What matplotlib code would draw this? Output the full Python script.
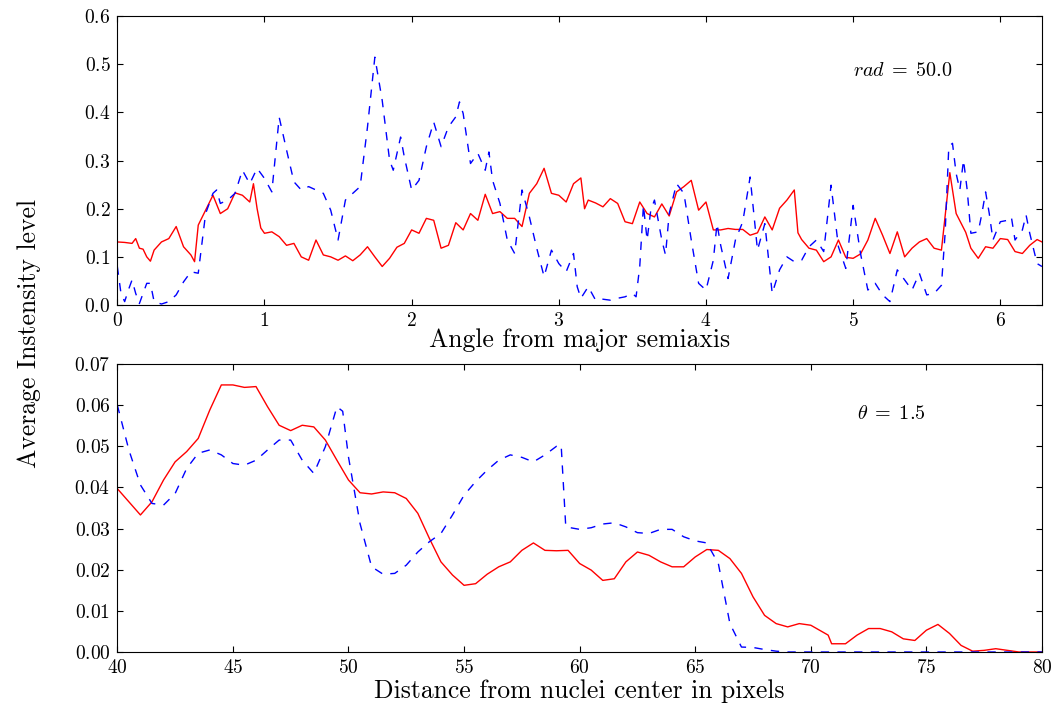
import matplotlib
matplotlib.use("Agg")
import matplotlib.pyplot as plt
import numpy as np

plt.rcParams["font.family"] = "serif"
plt.rcParams["font.serif"] = ["cmr10"]
plt.rcParams["mathtext.fontset"] = "cm"
plt.rcParams["axes.formatter.use_mathtext"] = True

# top panel: intensity vs angle (rad = 50.0)
ang_red = [0, .05, .1, .125, .15, .175, .2, .225, .25, .3, .35, .4, .45, .5, .525, .55, .6, .65, .7, .75,
           .8, .85, .9, .925, .95, .975, 1.0, 1.05, 1.1, 1.15, 1.2, 1.25, 1.3, 1.35, 1.4, 1.45, 1.5, 1.55,
           1.6, 1.65, 1.7, 1.75, 1.8, 1.85, 1.9, 1.95, 2.0, 2.05, 2.1, 2.15, 2.2, 2.25, 2.3, 2.35, 2.4,
           2.45, 2.5, 2.55, 2.6, 2.65, 2.7, 2.75, 2.8, 2.85, 2.9, 2.95, 3.0, 3.05, 3.1, 3.15, 3.175, 3.2,
           3.25, 3.3, 3.35, 3.4, 3.45, 3.5, 3.55, 3.6, 3.65, 3.7, 3.75, 3.8, 3.85, 3.9, 3.95, 4.0, 4.05,
           4.1, 4.15, 4.2, 4.25, 4.3, 4.35, 4.4, 4.45, 4.5, 4.55, 4.6, 4.625, 4.65, 4.7, 4.75, 4.8, 4.85,
           4.9, 4.95, 5.0, 5.05, 5.1, 5.15, 5.2, 5.25, 5.3, 5.35, 5.4, 5.45, 5.5, 5.55, 5.6, 5.657, 5.7,
           5.765, 5.8, 5.85, 5.9, 5.95, 6.0, 6.05, 6.1, 6.15, 6.2, 6.25, 6.283]
int_red = [.131, .130, .128, .138, .118, .116, .100, .091, .114, .131, .138, .163, .121, .104, .090, .166,
           .197, .228, .190, .200, .233, .228, .214, .252, .200, .160, .149, .152, .142, .124, .128, .100,
           .093, .135, .104, .100, .093, .102, .092, .104, .121, .100, .080, .097, .120, .128, .156, .149,
           .180, .176, .118, .124, .171, .156, .190, .176, .230, .190, .194, .180, .180, .163, .232, .252,
           .284, .232, .228, .214, .252, .264, .200, .218, .212, .204, .221, .211, .173, .169, .214, .190,
           .183, .210, .185, .235, .246, .259, .197, .214, .156, .156, .159, .157, .157, .145, .150, .183,
           .156, .201, .218, .239, .150, .136, .118, .114, .090, .100, .135, .099, .097, .106, .135, .180,
           .145, .107, .152, .100, .118, .131, .138, .118, .114, .275, .190, .151, .118, .097, .121, .118,
           .138, .136, .111, .107, .124, .136, .131]

ang_blue = [0, .025, .05, .075, .1, .125, .15, .175, .2, .225, .25, .3, .35, .4, .45, .5, .55, .6, .65,
            .675, .7, .75, .8, .85, .9, .95, 1.0, 1.05, 1.1, 1.15, 1.2, 1.25, 1.3, 1.35, 1.4, 1.45, 1.5,
            1.55, 1.6, 1.65, 1.7, 1.75, 1.8, 1.85, 1.875, 1.9, 1.925, 1.95, 2.0, 2.05, 2.1, 2.15, 2.2,
            2.25, 2.3, 2.325, 2.35, 2.4, 2.45, 2.5, 2.525, 2.55, 2.6, 2.65, 2.7, 2.75, 2.8, 2.85, 2.9,
            2.95, 3.0, 3.05, 3.1, 3.125, 3.15, 3.2, 3.25, 3.3, 3.35, 3.4, 3.45, 3.5, 3.525, 3.55, 3.575,
            3.6, 3.625, 3.65, 3.7, 3.725, 3.75, 3.8, 3.85, 3.9, 3.95, 4.0, 4.05, 4.075, 4.1, 4.15, 4.2,
            4.25, 4.3, 4.35, 4.4, 4.45, 4.5, 4.55, 4.6, 4.65, 4.7, 4.75, 4.8, 4.85, 4.9, 4.95, 5.0, 5.05,
            5.1, 5.15, 5.2, 5.25, 5.3, 5.35, 5.4, 5.45, 5.5, 5.55, 5.6, 5.625, 5.65, 5.675, 5.7, 5.725,
            5.75, 5.775, 5.8, 5.85, 5.875, 5.9, 5.925, 5.95, 6.0, 6.05, 6.075, 6.1, 6.15, 6.175, 6.2,
            6.25, 6.283]
int_blue = [.080, .024, .007, .031, .052, .024, .003, .024, .045, .045, .007, .002, .007, .021, .048, .069,
            .066, .190, .232, .239, .211, .218, .232, .280, .252, .284, .263, .235, .390, .322, .256, .239,
            .246, .239, .232, .197, .135, .218, .232, .246, .370, .515, .425, .301, .280, .315, .349, .308,
            .239, .259, .329, .380, .329, .370, .391, .422, .398, .294, .315, .280, .318, .259, .211, .135,
            .107, .239, .183, .118, .059, .114, .086, .069, .107, .038, .014, .038, .010, .012, .010, .014,
            .017, .024, .017, .080, .207, .135, .197, .218, .135, .104, .190, .252, .232, .135, .045, .031,
            .093, .169, .124, .055, .135, .173, .266, .114, .169, .024, .073, .100, .090, .093, .121, .135,
            .111, .249, .121, .076, .207, .107, .031, .045, .021, .007, .073, .052, .031, .066, .021, .024,
            .041, .149, .329, .336, .273, .239, .301, .239, .149, .152, .190, .235, .190, .135, .173, .176,
            .183, .135, .156, .187, .149, .086, .080]

# bottom panel: intensity vs distance (theta = 1.5)
dist_red = [40, 40.5, 41, 41.5, 42, 42.5, 43, 43.5, 44, 44.5, 45, 45.5, 46, 46.5, 47, 47.5, 48, 48.5, 49,
            49.5, 50, 50.5, 51, 51.5, 52, 52.5, 53, 53.5, 54, 54.5, 55, 55.5, 56, 56.5, 57, 57.5, 58, 58.5,
            59, 59.5, 60, 60.5, 61, 61.5, 62, 62.5, 63, 63.5, 64, 64.5, 65, 65.5, 66, 66.5, 67, 67.5, 68,
            68.5, 69, 69.5, 70, 70.5, 70.75, 70.9, 71.5, 72, 72.5, 73, 73.5, 74, 74.5, 75, 75.5, 76, 76.5,
            77, 77.5, 78, 78.5, 79, 80]
val_red = [.0397, .0365, .0333, .0365, .0418, .0462, .0487, .0519, .0588, .0649, .0649, .0643, .0645, .0596,
           .0551, .0538, .0551, .0547, .0515, .0466, .0418, .0387, .0384, .0389, .0387, .0373, .0337, .0276,
           .0219, .0187, .0162, .0166, .0189, .0207, .0219, .0247, .0265, .0247, .0246, .0247, .0215, .0199,
           .0174, .0178, .0219, .0243, .0235, .0219, .0207, .0207, .0231, .0249, .0247, .0227, .0191, .0134,
           .0089, .0069, .0061, .0069, .0065, .0049, .0041, .0020, .0020, .0041, .0057, .0057, .0049, .0032,
           .0028, .0053, .0067, .0045, .0016, .0002, .0004, .0008, .0004, 0, 0]

dist_blue = [40, 40.5, 41, 41.5, 42, 42.5, 43, 43.5, 44, 44.5, 45, 45.5, 46, 46.5, 47, 47.5, 48, 48.5, 49,
             49.5, 49.75, 50, 50.5, 51, 51.5, 52, 52.5, 53, 53.5, 54, 54.5, 55, 55.5, 56, 56.5, 57, 57.5,
             58, 58.5, 59, 59.2, 59.4, 60, 60.5, 61, 61.5, 62, 62.5, 63, 63.5, 64, 64.5, 65, 65.5, 66,
             66.5, 67, 67.5, 68, 68.5, 69, 80]
val_blue = [.0600, .0491, .0406, .0361, .0357, .0385, .0446, .0483, .0491, .0479, .0458, .0454, .0466, .0491,
            .0515, .0515, .0466, .0434, .0499, .0596, .0585, .0474, .0312, .0207, .0189, .0191, .0211, .0243,
            .0268, .0288, .0333, .0381, .0414, .0442, .0466, .0479, .0473, .0462, .0479, .0500, .0503, .0304,
            .0298, .0302, .0311, .0314, .0304, .0290, .0288, .0298, .0298, .0280, .0270, .0265, .0215, .0069,
            .0012, .0011, .0006, .0002, 0, 0]

fig = plt.figure(figsize=(10.54, 7.06), dpi=100)
ax1 = fig.add_axes([0.1113, 0.568, 0.8773, 0.409])
ax2 = fig.add_axes([0.1113, 0.0765, 0.8773, 0.408])

ax1.plot(ang_red, int_red, "r-", lw=1.0)
ax1.plot(ang_blue, int_blue, "b--", lw=1.0, dashes=(6, 6))
ax1.set_xlim(0, 2 * np.pi)
ax1.set_ylim(0, 0.6)
ax1.set_xlabel("Angle from major semiaxis", fontsize=18.5, labelpad=-1)
ax1.text(5.0, 0.475, r"$rad\;=\;50.0$", fontsize=14.5)

ax2.plot(dist_red, val_red, "r-", lw=1.0)
ax2.plot(dist_blue, val_blue, "b--", lw=1.0, dashes=(6, 6))
ax2.set_xlim(40, 80)
ax2.set_ylim(0, 0.07)
ax2.set_xlabel("Distance from nuclei center in pixels", fontsize=18.5, labelpad=2)
ax2.text(72.0, 0.0565, r"$\theta\;=\;1.5$", fontsize=14.5)

for ax in (ax1, ax2):
    ax.tick_params(direction="in", top=True, right=True, length=4, labelsize=14, pad=5)

fig.text(0.028, 0.528, "Average Instensity level", rotation=90, fontsize=18.5,
         ha="center", va="center")

fig.savefig("out.png", dpi=100, facecolor="white")
